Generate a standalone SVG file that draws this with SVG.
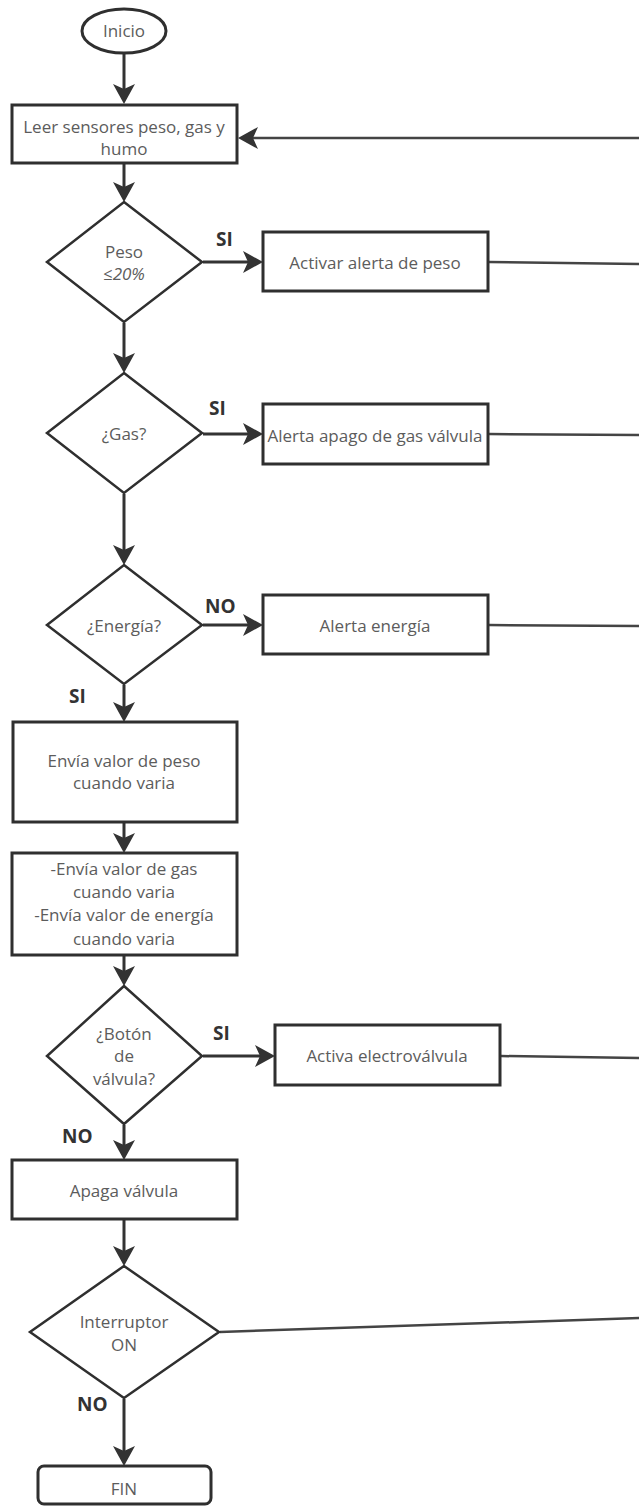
<svg xmlns="http://www.w3.org/2000/svg" width="639" height="1506" viewBox="0 0 639 1506">
<style>
.shape{fill:#fff;stroke:#2f2f2f;stroke-width:3}
.dia{fill:#fff;stroke:#2f2f2f;stroke-width:2.5}
.txt{font-family:"Open Sans","Liberation Sans",sans-serif;font-size:17px;fill:#5c5c5c;text-anchor:middle}
.lbl{font-family:"Open Sans","Liberation Sans",sans-serif;font-size:19px;font-weight:bold;fill:#333}
.con{fill:none;stroke:#333;stroke-width:3}
.ret{fill:none;stroke:#444;stroke-width:2.5}
</style>
<defs>
<marker id="ah" markerUnits="userSpaceOnUse" viewBox="0 0 20 22" markerWidth="20" markerHeight="22" refX="14" refY="11" orient="auto">
<path d="M0,0 L20,11 L0,22 L5,11 Z" fill="#333"/>
</marker>
</defs>
<rect width="639" height="1506" fill="#fff"/>

<g id="connectors">
<line class="con" x1="124" y1="53" x2="124" y2="98" marker-end="url(#ah)"/>
<line class="con" x1="124" y1="164" x2="124" y2="196" marker-end="url(#ah)"/>
<line class="con" x1="203" y1="262" x2="257" y2="262" marker-end="url(#ah)"/>
<line class="con" x1="124" y1="323" x2="124" y2="367" marker-end="url(#ah)"/>
<line class="con" x1="203" y1="434" x2="257" y2="434" marker-end="url(#ah)"/>
<line class="con" x1="124" y1="494" x2="124" y2="559" marker-end="url(#ah)"/>
<line class="con" x1="203" y1="625" x2="257" y2="625" marker-end="url(#ah)"/>
<line class="con" x1="124" y1="685" x2="124" y2="716" marker-end="url(#ah)"/>
<line class="con" x1="124" y1="823" x2="124" y2="847" marker-end="url(#ah)"/>
<line class="con" x1="124" y1="956" x2="124" y2="980" marker-end="url(#ah)"/>
<line class="con" x1="203" y1="1056" x2="269" y2="1056" marker-end="url(#ah)"/>
<line class="con" x1="124" y1="1125" x2="124" y2="1154" marker-end="url(#ah)"/>
<line class="con" x1="124" y1="1220" x2="124" y2="1260" marker-end="url(#ah)"/>
<line class="con" x1="124" y1="1399" x2="124" y2="1460" marker-end="url(#ah)"/>
<line class="ret" x1="640" y1="138" x2="244" y2="138" marker-end="url(#ah)"/>
<line class="ret" x1="489" y1="262" x2="640" y2="264"/>
<line class="ret" x1="489" y1="434" x2="640" y2="435"/>
<line class="ret" x1="489" y1="625" x2="640" y2="626"/>
<line class="ret" x1="501" y1="1056" x2="640" y2="1058"/>
<line class="ret" x1="220" y1="1332" x2="640" y2="1318"/>
<text class="lbl" x="216" y="246">SI</text>
<text class="lbl" x="209" y="415">SI</text>
<text class="lbl" x="205" y="613">NO</text>
<text class="lbl" x="69" y="703">SI</text>
<text class="lbl" x="213" y="1040">SI</text>
<text class="lbl" x="62" y="1143">NO</text>
<text class="lbl" x="77" y="1411">NO</text>
</g>

<g id="inicio">
<ellipse class="shape" cx="124" cy="31" rx="42" ry="22" stroke-width="2.5"/>
<text class="txt" x="124" y="37">Inicio</text>
</g>

<g id="leer">
<rect class="shape" x="12" y="105" width="225" height="58"/>
<text class="txt" x="124" y="133">Leer sensores peso, gas y</text>
<text class="txt" x="124" y="155">humo</text>
</g>

<g id="peso">
<polygon class="dia" points="124,202 202,262 124,322 47,262"/>
<text class="txt" x="124" y="258">Peso</text>
<text class="txt" x="124" y="280" font-style="italic">≤20%</text>
</g>

<g id="alerta-peso">
<rect class="shape" x="263" y="232" width="225" height="59"/>
<text class="txt" x="375" y="269">Activar alerta de peso</text>
</g>

<g id="gas">
<polygon class="dia" points="124,373 202,433 124,493 47,433"/>
<text class="txt" x="124" y="440">¿Gas?</text>
</g>

<g id="alerta-gas">
<rect class="shape" x="263" y="404" width="225" height="60"/>
<text class="txt" x="375" y="442">Alerta apago de gas válvula</text>
</g>

<g id="energia">
<polygon class="dia" points="124,565 202,625 124,684 47,625"/>
<text class="txt" x="124" y="632">¿Energía?</text>
</g>

<g id="alerta-energia">
<rect class="shape" x="263" y="595" width="225" height="59"/>
<text class="txt" x="375" y="632">Alerta energía</text>
</g>

<g id="envia-peso">
<rect class="shape" x="13" y="722" width="224" height="100"/>
<text class="txt" x="124" y="767">Envía valor de peso</text>
<text class="txt" x="124" y="789">cuando varia</text>
</g>

<g id="envia-gas">
<rect class="shape" x="12" y="853" width="225" height="102"/>
<text class="txt" x="124" y="875">-Envía valor de gas</text>
<text class="txt" x="124" y="898">cuando varia</text>
<text class="txt" x="124" y="921">-Envía valor de energía</text>
<text class="txt" x="124" y="945">cuando varia</text>
</g>

<g id="boton">
<polygon class="dia" points="124,986 202,1056 124,1124 47,1056"/>
<text class="txt" x="124" y="1040">¿Botón</text>
<text class="txt" x="124" y="1062">de</text>
<text class="txt" x="124" y="1085">válvula?</text>
</g>

<g id="electrovalvula">
<rect class="shape" x="275" y="1025" width="225" height="60"/>
<text class="txt" x="387" y="1062">Activa electroválvula</text>
</g>

<g id="apaga">
<rect class="shape" x="12" y="1160" width="225" height="59"/>
<text class="txt" x="124" y="1197">Apaga válvula</text>
</g>

<g id="interruptor">
<polygon class="dia" points="124,1266 219,1332 124,1398 30,1332"/>
<text class="txt" x="124" y="1328">Interruptor</text>
<text class="txt" x="124" y="1351">ON</text>
</g>

<g id="fin">
<rect class="shape" x="38" y="1466" width="173" height="38" rx="6"/>
<text class="txt" x="124" y="1495" font-size="15">FIN</text>
</g>
</svg>
